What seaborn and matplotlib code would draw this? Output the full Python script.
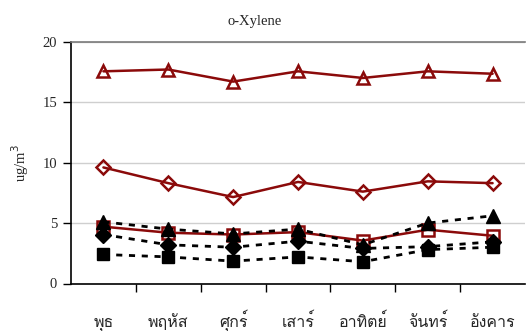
import numpy as np
import pandas as pd
import matplotlib
matplotlib.use("Agg")
import matplotlib.pyplot as plt
from matplotlib import font_manager
from matplotlib.ft2font import FT2Font
import seaborn as sns

# Day-of-week categories (Thai)
days = ["พุธ", "พฤหัส", "ศุกร์", "เสาร์", "อาทิตย์", "จันทร์", "อังคาร"]

# o-Xylene concentrations (ug/m3) per monitoring series
red_triangle = [17.55, 17.7, 16.7, 17.55, 17.0, 17.55, 17.35]
red_diamond = [9.6, 8.3, 7.15, 8.4, 7.6, 8.45, 8.3]
red_square = [4.7, 4.2, 4.05, 4.25, 3.55, 4.45, 3.95]
black_triangle = [5.1, 4.5, 4.1, 4.5, 3.2, 5.0, 5.6]
black_diamond = [4.05, 3.2, 3.0, 3.5, 2.9, 3.05, 3.45]
black_square = [2.4, 2.2, 1.85, 2.2, 1.8, 2.8, 3.0]

yticks = [0, 5, 10, 15, 20]


def find_font(ch):
    """Return the family name of an installed font that has glyph ch."""
    seen = set()
    for f in font_manager.fontManager.ttflist:
        if f.fname in seen:
            continue
        seen.add(f.fname)
        try:
            if ord(ch) in FT2Font(f.fname).get_charmap():
                return f.name
        except Exception:
            continue
    return "DejaVu Sans"


sns.set_theme(style="white")
serif = ["Liberation Serif", "DejaVu Serif"]
plt.rcParams["font.family"] = serif
thai_family = find_font("พ")

fig = plt.figure(figsize=(5.28, 3.31), dpi=100)
W, H = 528, 331
ax = fig.add_axes([71 / W, 1 - 283.5 / H, (525 - 71) / W, (283.5 - 41.7) / H])

x = np.arange(len(days))
dark_red = "#8B0A0A"

series = [
    (red_triangle, "^", dark_red, "none", "-", 8.5),
    (red_diamond, "D", dark_red, "none", "-", 7.5),
    (red_square, "s", dark_red, "none", "-", 8.5),
    (black_square, "s", "black", "black", (0, (2.2, 2.4)), 9),
    (black_diamond, "D", "black", "black", (0, (2.2, 2.4)), 8),
    (black_triangle, "^", "black", "black", (0, (2.2, 2.4)), 10),
]

for vals, mk, col, face, ls, ms in series:
    df = pd.DataFrame({"x": x, "y": vals})
    sns.lineplot(data=df, x="x", y="y", ax=ax, color=col, linestyle=ls,
                 linewidth=1.8 if col != "black" else 2.0,
                 marker=mk, markersize=ms, markerfacecolor=face,
                 markeredgecolor=col, markeredgewidth=1.8 if face == "none" else 1.0,
                 legend=False, zorder=3)

ax.set_xlim(-0.5, len(days) - 0.5)
ax.set_ylim(0, 20)
ax.set_yticks(yticks)
ax.set_yticklabels([str(v) for v in yticks], fontsize=10.5)
ax.yaxis.grid(True, color="#cfcfcf", linewidth=1.0)
ax.set_axisbelow(True)

ax.set_xticks(x)
ax.set_xticklabels(days, family=[thai_family, "DejaVu Sans"], fontsize=11.5)
for lab in ax.get_xticklabels():
    lab.set_verticalalignment("baseline")
ax.set_xticks(np.arange(0.5, len(days) - 1, 1.0), minor=True)
ax.tick_params(axis="x", which="major", length=0, pad=31)
ax.tick_params(axis="x", which="minor", length=6, width=1, color="black",
               direction="out", bottom=True)
ax.tick_params(axis="y", length=6, width=1, color="black", direction="out",
               left=True, pad=4, labelsize=10.5)

for side in ["left", "bottom"]:
    ax.spines[side].set_color("black")
    ax.spines[side].set_linewidth(1.2)
ax.spines["top"].set_color("#7a7a7a")
ax.spines["top"].set_linewidth(1.2)
ax.spines["right"].set_visible(False)

ax.set_xlabel("")
ax.set_ylabel("ug/m$^3$", fontsize=10.5, labelpad=8)
ax.set_title("o-Xylene", fontsize=10.5, pad=12, x=(255 - 71) / (525 - 71))

fig.savefig("out.png", dpi=100)
